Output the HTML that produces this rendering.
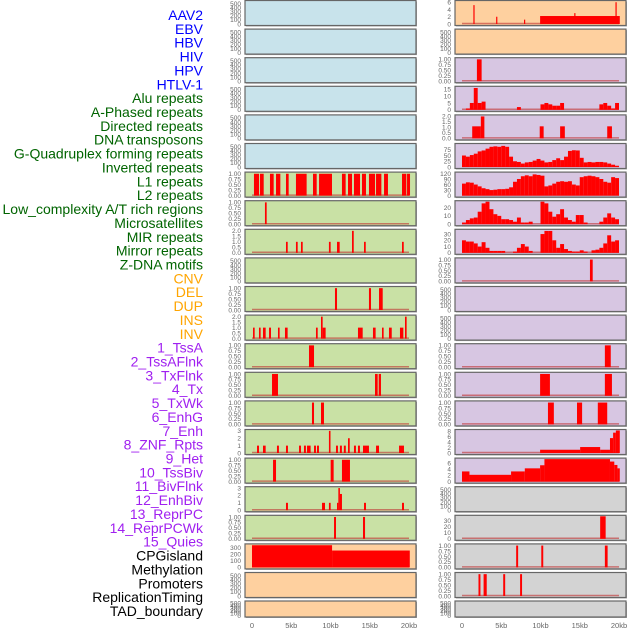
<!DOCTYPE html>
<html><head><meta charset="utf-8"><style>
html,body{margin:0;padding:0;background:#fff;width:630px;height:630px;overflow:hidden}
svg{display:block}
</style></head><body>
<svg id="chart" width="630" height="630" xmlns="http://www.w3.org/2000/svg" font-family="Liberation Sans, sans-serif"></svg>
<script>
const rowLabels=["AAV2","EBV","HBV","HIV","HPV","HTLV-1","Alu repeats","A-Phased repeats","Directed repeats","DNA transposons","G-Quadruplex forming repeats","Inverted repeats","L1 repeats","L2 repeats","Low_complexity A/T rich regions","Microsatellites","MIR repeats","Mirror repeats","Z-DNA motifs","CNV","DEL","DUP","INS","INV","1_TssA","2_TssAFlnk","3_TxFlnk","4_Tx","5_TxWk","6_EnhG","7_Enh","8_ZNF_Rpts","9_Het","10_TssBiv","11_BivFlnk","12_EnhBiv","13_ReprPC","14_ReprPCWk","15_Quies","CPGisland","Methylation","Promoters","ReplicationTiming","TAD_boundary"];
const labelGroupCounts=[6,13,5,15,5];
const labelGroupColors=["#0000ff","#006400","#ffa500","#a020f0","#000000"];
const xTickKb=[0,5,10,15,20];
const xTickLabels=["0","5kb","10kb","15kb","20kb"];
const leftBg=["b","b","b","b","b","b","g","g","g","g","g","g","g","g","g","g","g","g","g","p","p","p"];
const rightBg=["p","p","l","l","l","l","l","l","l","l","l","l","l","l","l","l","l","y","y","y","y","y"];
const leftMax=[550,550,550,550,550,550,1.03,1.03,2.05,550,1.03,2.05,1.03,1.03,1.03,3.05,1.03,3.05,1.03,340,550,550];
const rightMax=[6.2,550,1.03,16.5,2.05,98,122,27,36,1.03,550,550,1.03,1.03,1.03,8.3,7.3,550,37,1.03,1.03,550];
const T1=["0.00","0.25","0.50","0.75","1.00"],T2=["0.0","0.5","1.0","1.5","2.0"],TE=["0","100","200","300","400","500"],T3=["0","1","2","3"];
const leftTicks=[TE,TE,TE,TE,TE,TE,T1,T1,T2,TE,T1,T2,T1,T1,T1,T3,T1,T3,T1,["0","100","200","300"],TE,TE];
const rightTicks=[["0","2","4","6"],TE,T1,["0","5","10","15"],T2,["0","25","50","75"],["0","30","60","90","120"],["0","10","20"],["0","10","20","30"],T1,TE,TE,T1,T1,T1,["0","2","4","6","8"],["0","2","4","6"],TE,["0","10","20","30"],T1,T1,TE];
// segments [startKb,endKb,value]
const leftSegs=[[],[],[],[],[],[],
[[0.25,0.9,1],[1.02,1.49,1],[2.29,2.76,1],[3.06,3.61,1],[4.33,4.67,1],[5.6,6.96,1],[7.77,8.24,1],[8.54,10.19,1],[11.46,11.93,1],[12.23,12.74,1],[12.99,13.76,1],[14.01,14.52,1],[14.9,15.67,1],[15.8,16.48,1],[16.82,17.32,1],[19.11,19.66,1],[19.75,20.13,1]],
[[1.65,1.87,1]],
[[4.33,4.55,1],[5.6,5.82,1],[6.24,6.46,1],[9.8,10.02,1],[10.83,11.17,1],[12.74,12.96,2],[14.27,14.49,1],[19.11,19.33,1]],
[],
[[10.57,10.83,1],[14.9,15.16,1],[16.18,16.65,1]],
[[0.13,0.34,1],[0.89,1.1,1],[1.4,1.74,1],[2.17,2.42,1],[3.31,3.52,1],[4.2,4.54,1],[8.15,8.37,1],[8.79,9.0,2],[9.0,9.38,1],[13.5,14.1,1],[15.41,15.75,1],[16.56,16.77,1],[17.45,17.8,1],[18.85,19.28,1],[19.49,19.7,2]],
[[7.26,7.9,1]],
[[2.55,3.31,1],[15.67,16.01,1],[16.14,16.43,1]],
[[7.64,7.9,1],[8.79,9.17,1]],
[[0.64,0.89,1],[1.4,1.74,1],[3.18,3.43,1],[4.33,4.58,1],[5.99,6.24,1],[6.62,6.87,1],[7.01,7.47,1],[7.9,8.15,1],[8.28,8.53,1],[9.8,10.0,3],[10.7,10.95,1],[11.2,11.45,1],[11.7,11.95,1],[12.23,12.45,2],[12.99,13.24,1],[13.5,13.75,1],[14.14,14.9,1],[15.8,16.18,1],[18.73,19.36,1]],
[[2.68,3.06,1],[10.02,10.4,1],[11.46,12.48,1]],
[[4.33,4.58,1],[8.92,9.3,1],[9.8,10.02,1],[10.83,11.0,1],[11.0,11.2,3],[11.2,11.46,2.2],[14.27,14.52,1],[19.11,19.36,1]],
[[10.45,10.7,1],[14.14,14.4,1]],
[[0,10.2,335],[10.2,20.1,255]],
[],[]];
const rightSegs=[
[[9.95,20.1,2.2],[1.45,1.6,5.2],[4.35,4.5,2],[7.9,8.05,1.2],[14.3,14.45,3],[19.55,19.7,6]],
[],
[[1.9,2.5,1]],
"alu",
[[1.3,2.4,1.1],[2.4,2.85,2.0],[9.9,10.4,1.1],[12.5,13.1,1.1],[18.5,19.1,1.1]],
"gquad","l1","lowcomp","micro",
[[16.3,16.65,1]],
[],[],
[[18.2,18.95,1]],
[[9.95,11.2,1],[18.2,19.1,1]],
[[10.95,11.7,1],[14.65,15.3,1],[17.3,18.5,1]],
[[9.95,15.05,1.2],[15.05,17.6,2.2],[17.6,18.85,1.2],[18.85,19.25,5.5],[19.25,19.6,7.5],[19.6,20.1,8.3]],
[[0,0.95,3.3],[0.95,6.25,2.2],[6.25,8.0,3.3],[8.0,9.95,4.3],[9.95,10.5,5.3],[10.5,18.85,7.3],[18.85,19.4,6.5],[19.4,19.8,5.4],[19.8,20.1,4.3]],
[],
[[17.6,18.3,37]],
[[6.9,7.15,1],[10.1,10.35,1],[18.2,18.55,1]],
[[2.1,2.35,1],[2.75,3.15,1],[5.25,5.5,1],[7.4,7.65,1]],
[]];
// 0.5kb bins
const aluBins=[0,1,5,16,5,6,0,0,0,0,0,0,0,0,2,0,0,0,0,0,4,5,4,3,3,5,0,0,0,0,0,0,0,0,0,4,5,3,1,5];
const gquadBins=[50,45,52,58,68,72,80,88,90,88,92,88,45,25,22,15,20,22,28,35,28,20,22,30,38,30,45,70,73,72,40,20,22,20,22,22,20,15,10,5];
const l1Bins=[65,72,70,60,50,40,35,30,32,35,35,37,45,75,90,105,110,105,115,112,108,50,55,65,75,78,75,78,60,55,100,105,108,105,100,90,75,70,100,95];
const lowcompBins=[2,5,7,8,15,25,27,18,12,10,6,6,5,3,8,2,2,3,0,0,27,25,15,9,12,18,8,5,3,11,11,2,0,0,0,3,8,13,8,6];
const microBins=[20,18,18,15,10,17,8,3,3,3,3,0,0,2,8,14,10,3,0,0,30,35,35,20,8,14,6,3,2,2,4,2,0,4,5,8,15,28,18,20];
const binSets={alu:aluBins,gquad:gquadBins,l1:l1Bins,lowcomp:lowcompBins,micro:microBins};

const NS="http://www.w3.org/2000/svg";
const svg=document.getElementById('chart');
const bgColors={b:"#c8e3eb",g:"#c9e1a5",p:"#fed09f",l:"#d7c6e2",y:"#d3d3d3"};
function mk(tag,attrs,parent){const e=document.createElementNS(NS,tag);for(const k in attrs)e.setAttribute(k,attrs[k]);(parent||svg).appendChild(e);return e;}

let gi=0,gc=0;
rowLabels.forEach((lab,i)=>{
  while(gc>=labelGroupCounts[gi]){gi++;gc=0;}
  gc++;
  const t=mk('text',{x:203,y:15+i*13.86+5,'text-anchor':'end','font-size':'14',fill:labelGroupColors[gi]});
  
  
  t.textContent=lab;
});

function rowGeom(i){return i<21?{top:i*28.6+0.5,h:25}:{top:601,h:16};}
function drawPanel(col,i,bg,max,ticks,segs){
  const px=col===0?245:455,x0=px+7,kbw=7.85;
  const g=rowGeom(i);
  const grp=mk('g',{});
  
  
  mk('rect',{x:px+1,y:g.top+1,width:171,height:g.h,fill:'#aaa'},grp);
  mk('rect',{x:px,y:g.top,width:171,height:g.h,fill:bgColors[bg],stroke:'#666','stroke-width':1.2},grp);
  const yb=g.top+g.h-1.5,yt=g.top+1;
  const ys=v=>yb-(v/max)*(yb-yt);
  const xs=kb=>x0+kb*kbw;
  ticks.forEach(tl=>{
    const t=mk('text',{x:px-4,y:ys(parseFloat(tl))+2.3,'text-anchor':'end','font-size':'6.5',fill:'#666'},grp);
    
    
    t.textContent=tl;
  });
  let s=segs;
  if(typeof s==='string'){const b=binSets[s];s=b.map((v,k)=>[k*0.5,k*0.5+0.5,v]);}
  if(s.length===0)return;
  mk('line',{x1:xs(0),x2:xs(20),y1:yb-0.5,y2:yb-0.5,stroke:'#c03030','stroke-width':1.5,'stroke-opacity':0.6},grp);
  s.forEach(sg=>{
    const r=mk('rect',{x:xs(sg[0]),y:ys(sg[2]),width:Math.max(1.2,xs(sg[1])-xs(sg[0])),height:yb-ys(sg[2]),fill:'#ff0000'},grp);
    
    
  });
}
for(let i=0;i<22;i++){
  drawPanel(0,i,leftBg[i],leftMax[i],leftTicks[i],leftSegs[i]);
  drawPanel(1,i,rightBg[i],rightMax[i],rightTicks[i],rightSegs[i]);
}
[245,455].forEach(px=>{
  xTickKb.forEach((kb,k)=>{
    const t=mk('text',{x:px+7+kb*7.85,y:628,'text-anchor':'middle','font-size':'7.5',fill:'#666'});
    
    
    t.textContent=xTickLabels[k];
  });
});
</script>
</body></html>
